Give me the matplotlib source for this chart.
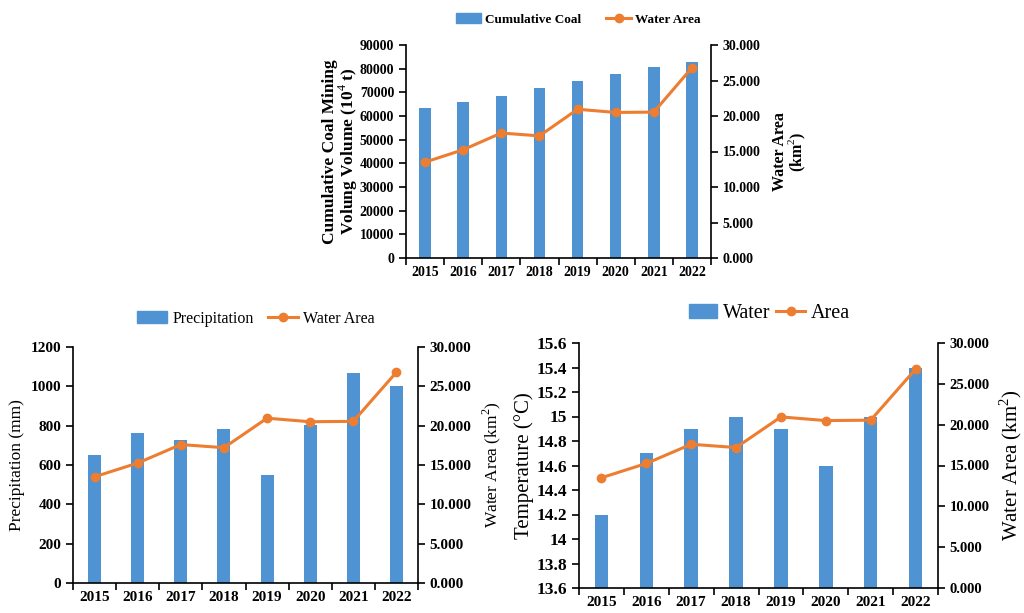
import matplotlib
matplotlib.use("Agg")
import matplotlib.pyplot as plt
from matplotlib.lines import Line2D
from matplotlib.patches import Patch
from matplotlib.ticker import FormatStrFormatter, FixedLocator

plt.rcParams["font.family"] = ["Liberation Serif", "DejaVu Serif"]
plt.rcParams["mathtext.fontset"] = "custom"
plt.rcParams["mathtext.rm"] = "Liberation Serif"
plt.rcParams["mathtext.bf"] = "Liberation Serif:bold"

years = ["2015", "2016", "2017", "2018", "2019", "2020", "2021", "2022"]
coal = [63300, 65800, 68500, 71700, 74800, 77900, 80600, 83000]
precip = [651, 763, 725, 785, 551, 802, 1069, 1000]
temp = [14.2, 14.7, 14.9, 15.0, 14.9, 14.6, 15.0, 15.4]
water_area = [13.5, 15.25, 17.6, 17.2, 20.95, 20.5, 20.55, 26.8]

BAR = "#4f93d2"
LINE = "#ed7d31"
W, H = 1024, 613

fig = plt.figure(figsize=(W / 100, H / 100), dpi=100)


def px_axes(x0, y0, x1, y1):
    return fig.add_axes([x0 / W, (H - y1) / H, (x1 - x0) / W, (y1 - y0) / H])


def draw(ax, bars, ylim, yticks, yfmt, ysize, xsize, rsize, bar_label, line_label,
         leg_x, leg_size, leg_bold, hl=2.2, cs=1.0):
    x = list(range(len(years)))
    ax.bar(x, bars, width=0.3, color=BAR, zorder=2)
    ax.set_xlim(-0.5, len(years) - 0.5)
    ax.set_ylim(*ylim)
    ax.set_yticks(yticks)
    ax.yaxis.set_major_formatter(yfmt)
    ax.set_xticks(x)
    ax.set_xticklabels(years)
    ax.xaxis.set_minor_locator(FixedLocator([i - 0.5 for i in range(len(years) + 1)]))
    ax.tick_params(axis="x", which="major", length=0, pad=6)
    ax.tick_params(axis="x", which="minor", length=5, width=1.2)
    ax.tick_params(axis="y", length=5, width=1.2)
    for s in ("top", "right"):
        ax.spines[s].set_visible(False)
    for s in ("left", "bottom"):
        ax.spines[s].set_linewidth(1.2)
    for lab in ax.get_xticklabels():
        lab.set_fontsize(xsize)
        lab.set_fontweight("bold")
    for lab in ax.get_yticklabels():
        lab.set_fontsize(ysize)
        lab.set_fontweight("bold")

    ax2 = ax.twinx()
    ax2.plot(x, water_area, color=LINE, lw=2.2, marker="o", ms=6, zorder=3)
    ax2.set_ylim(0, 30)
    ax2.set_yticks([0, 5, 10, 15, 20, 25, 30])
    ax2.yaxis.set_major_formatter(FormatStrFormatter("%.3f"))
    ax2.tick_params(axis="y", length=5, width=1.2)
    for s in ("top", "left", "bottom"):
        ax2.spines[s].set_visible(False)
    ax2.spines["right"].set_linewidth(1.2)
    for lab in ax2.get_yticklabels():
        lab.set_fontsize(rsize)
        lab.set_fontweight("bold")

    handles = [Patch(color=BAR), Line2D([], [], color=LINE, lw=2.2, marker="o", ms=6)]
    ax.legend(handles, [bar_label, line_label], loc="center",
              bbox_to_anchor=(leg_x, 1.12), ncol=2, frameon=False,
              handlelength=hl, columnspacing=cs, handletextpad=0.3,
              prop={"size": leg_size, "weight": "bold" if leg_bold else "normal"})
    return ax2


# top chart: cumulative coal
ax = px_axes(406, 45, 711, 258)
ax2 = draw(ax, coal, (0, 90000), range(0, 90001, 10000), FormatStrFormatter("%d"),
           10, 10, 10, "Cumulative Coal", "Water Area", 0.565, 9.5, True, hl=1.9, cs=1.9)
ax.set_ylabel("Cumulative Coal Mining\nVolung Volume (10$^4$ t)",
              fontsize=12.5, fontweight="bold", linespacing=0.95)
ax.yaxis.set_label_coords(-0.15, 0.5)
ax2.set_ylabel("Water Area\n(km$^2$)", fontsize=11.5, fontweight="bold",
               linespacing=0.95)
ax2.yaxis.set_label_coords(1.20, 0.5)

# bottom left: precipitation
ax = px_axes(73, 347, 418, 583)
ax2 = draw(ax, precip, (0, 1200), range(0, 1201, 200), FormatStrFormatter("%d"),
           11, 11, 11, "Precipitation", "Water Area", 0.53, 11.5, False, hl=1.9, cs=0.9)
ax.set_ylabel("Precipitation (mm)", fontsize=12.5)
ax2.set_ylabel("Water Area (km$^2$)", fontsize=12.5, labelpad=6)

# bottom right: temperature
temp_fmt = plt.FuncFormatter(lambda v, p: ("%.1f" % v).rstrip("0").rstrip("."))
ax = px_axes(579, 343, 938, 588)
ax2 = draw(ax, temp, (13.6, 15.6), [13.6 + 0.2 * i for i in range(11)], temp_fmt,
           12.5, 11, 10.5, "Water", "Area", 0.53, 14.5, False, hl=1.4, cs=0.3)
ax.set_ylabel("Temperature (°C)", fontsize=15)
ax.yaxis.set_label_coords(-0.125, 0.5)
ax2.set_ylabel("Water Area (km$^2$)", fontsize=15)
ax2.yaxis.set_label_coords(1.164, 0.5)

fig.savefig("out.png", dpi=100)
